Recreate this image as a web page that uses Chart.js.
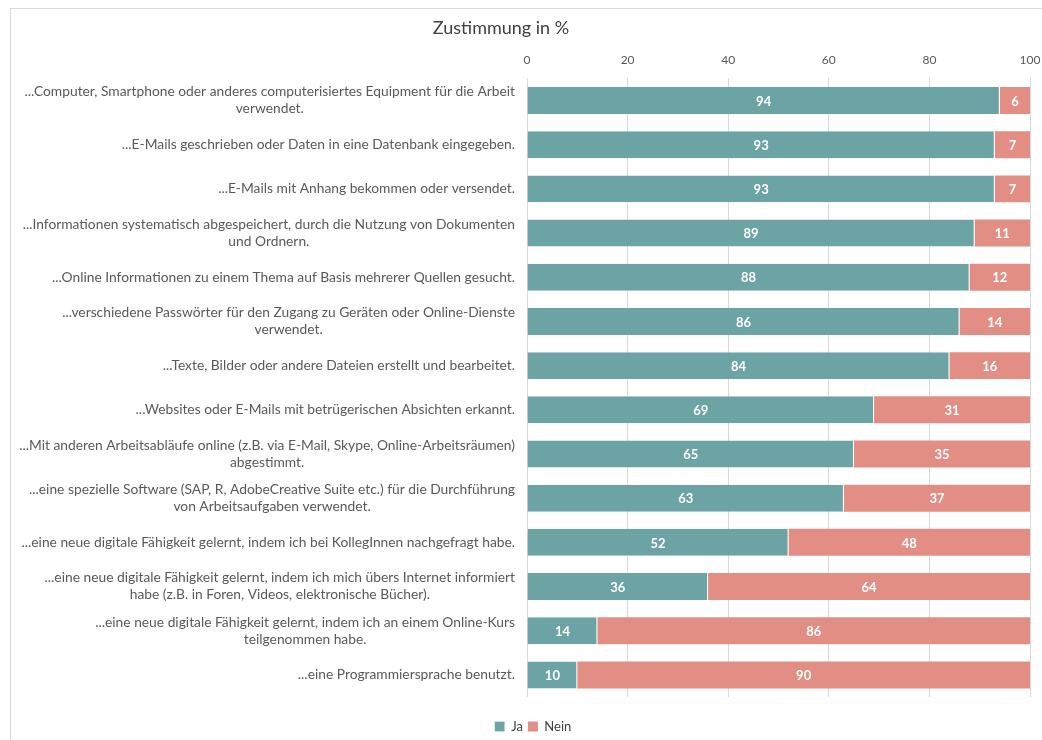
<!DOCTYPE html>
<html>
<head>
<meta charset="utf-8">
<script src="https://cdn.jsdelivr.net/npm/chart.js@4.4.1/dist/chart.umd.min.js"></script>
<style>
  html, body { margin: 0; padding: 0; background: #fff; }
  #wrap { position: relative; width: 1042px; height: 740px; overflow: hidden; }
  #frame { position: absolute; left: 10px; top: 8px; width: 1100px; height: 800px;
           border-left: 1px solid #d9d9d9; border-top: 1px solid #d9d9d9; pointer-events: none; }
  canvas { position: absolute; left: 0; top: 0; }
</style>
</head>
<body>
<div id="wrap">
  <div id="frame"></div>
  <canvas id="c" width="1042" height="740"></canvas>
</div>
<script>
const categories = [
  ["...Computer, Smartphone oder anderes computerisiertes Equipment für die Arbeit", "verwendet."],
  ["...E-Mails geschrieben oder Daten in eine Datenbank eingegeben."],
  ["...E-Mails mit Anhang bekommen oder versendet."],
  ["...Informationen systematisch abgespeichert, durch die Nutzung von Dokumenten", "und Ordnern."],
  ["...Online Informationen zu einem Thema auf Basis mehrerer Quellen gesucht."],
  ["...verschiedene Passwörter für den Zugang zu Geräten oder Online-Dienste", "verwendet."],
  ["...Texte, Bilder oder andere Dateien erstellt und bearbeitet."],
  ["...Websites oder E-Mails mit betrügerischen Absichten erkannt."],
  ["...Mit anderen Arbeitsabläufe online (z.B. via E-Mail, Skype, Online-Arbeitsräumen)", "abgestimmt."],
  ["...eine spezielle Software (SAP, R, AdobeCreative Suite etc.) für die Durchführung", "von Arbeitsaufgaben verwendet."],
  ["...eine neue digitale Fähigkeit gelernt, indem ich bei KollegInnen nachgefragt habe."],
  ["...eine neue digitale Fähigkeit gelernt, indem ich mich übers Internet informiert", "habe (z.B. in Foren, Videos, elektronische Bücher)."],
  ["...eine neue digitale Fähigkeit gelernt, indem ich an einem Online-Kurs", "teilgenommen habe."],
  ["...eine Programmiersprache benutzt."]
];
const jaValues   = [94, 93, 93, 89, 88, 86, 84, 69, 65, 63, 52, 36, 14, 10];
const neinValues = [6, 7, 7, 11, 12, 14, 16, 31, 35, 37, 48, 64, 86, 90];
const seriesNames = ["Ja", "Nein"];
const titleText = "Zustimmung in %";

const FONT = "Lato, 'Noto Sans', sans-serif";
const TEAL = "#6ca4a6";
const SALMON = "#e28e84";

// Title (Excel places it left of the plot centre) and category labels
const labelPlugin = {
  id: "catLabels",
  afterDraw(chart) {
    const ctx = chart.ctx;
    const y = chart.scales.y;
    const rightX = chart.chartArea.left - 12;
    const lineH = 17;
    ctx.save();
    ctx.font = "18px " + FONT;
    ctx.fillStyle = "#404040";
    ctx.textAlign = "center";
    ctx.textBaseline = "middle";
    ctx.fillText(titleText, 501, 28);

    ctx.font = "13.8px " + FONT;
    ctx.fillStyle = "#595959";
    chart.data.labels.forEach((lines, i) => {
      const cy = y.getPixelForValue(i);
      const w = Math.max(...lines.map(l => ctx.measureText(l).width));
      const cx = rightX - w / 2;
      const y0 = cy - (lines.length - 1) * lineH / 2;
      lines.forEach((l, k) => ctx.fillText(l, cx, y0 + k * lineH));
    });
    ctx.restore();
  }
};

// Value labels inside the bar segments
const valuePlugin = {
  id: "valLabels",
  afterDatasetsDraw(chart) {
    const ctx = chart.ctx;
    ctx.save();
    ctx.font = "bold 13px " + FONT;
    ctx.fillStyle = "#ffffff";
    ctx.textAlign = "center";
    ctx.textBaseline = "middle";
    chart.data.datasets.forEach((ds, di) => {
      const meta = chart.getDatasetMeta(di);
      meta.data.forEach((bar, i) => {
        const p = bar.getProps(["x", "base", "y"], true);
        ctx.fillText(String(ds.data[i]), (p.x + p.base) / 2, p.y + 1);
      });
    });
    ctx.restore();
  }
};

function noSidePadding(s) { s.paddingLeft = 0; s.paddingRight = 0; }

new Chart(document.getElementById("c"), {
  type: "bar",
  data: {
    labels: categories,
    datasets: [
      { label: seriesNames[0], data: jaValues, backgroundColor: TEAL, borderColor: "#ffffff", borderWidth: {right: 1}, borderSkipped: false },
      { label: seriesNames[1], data: neinValues, backgroundColor: SALMON, borderWidth: 0 }
    ]
  },
  options: {
    indexAxis: "y",
    responsive: false,
    animation: false,
    devicePixelRatio: 1,
    layout: { autoPadding: false, padding: { left: 36, right: 12, top: 42, bottom: -3 } },
    datasets: { bar: { categoryPercentage: 0.61, barPercentage: 1.0 } },
    scales: {
      x: {
        position: "top",
        stacked: true,
        min: 0, max: 100,
        ticks: { stepSize: 20, color: "#595959", font: { family: FONT, size: 12 }, padding: 11 },
        grid: { color: "#d9d9d9", lineWidth: 1, drawTicks: false },
        border: { display: false },
        afterFit: noSidePadding
      },
      xb: {
        type: "linear",
        position: "bottom",
        display: true,
        ticks: { display: false },
        grid: { display: false, drawTicks: false },
        border: { display: false },
        afterFit(s) { s.height = 18; s.paddingLeft = 0; s.paddingRight = 0; }
      },
      y: {
        stacked: true,
        display: true,
        ticks: { display: false },
        grid: { display: false, drawTicks: false },
        border: { display: false },
        afterFit(s) { s.width = 491; }
      }
    },
    plugins: {
      title: { display: false },
      legend: {
        position: "bottom",
        labels: { color: "#404040", font: { family: FONT, size: 13 }, boxWidth: 10, boxHeight: 10, padding: 5 }
      },
      tooltip: { enabled: false }
    }
  },
  plugins: [labelPlugin, valuePlugin]
});
</script>
</body>
</html>
